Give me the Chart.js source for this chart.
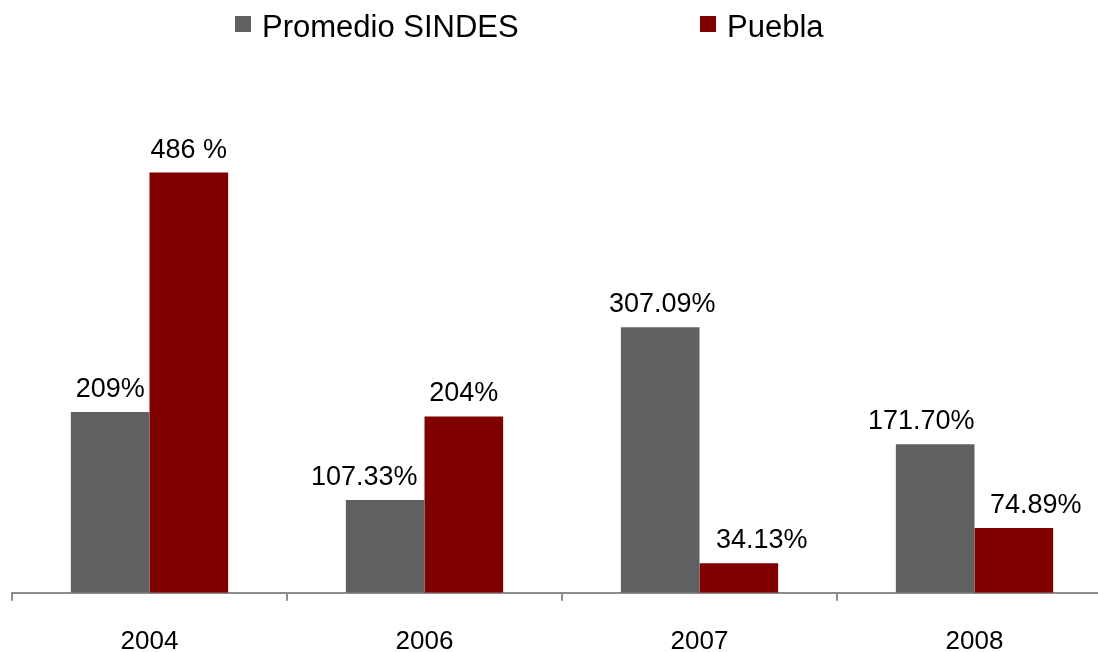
<!DOCTYPE html>
<html>
<head>
<meta charset="utf-8">
<script src="https://cdn.jsdelivr.net/npm/chart.js@4.4.0/dist/chart.umd.min.js"></script>
<style>
  html, body { margin: 0; padding: 0; background: #fff; overflow: hidden; }
  #wrap { width: 1112px; height: 652px; }
</style>
</head>
<body>
<div id="wrap"><canvas id="chart-1"></canvas></div>
<script>
const years = ['2004', '2006', '2007', '2008'];
const sindesValues = [209, 107.33, 307.09, 171.70];
const pueblaValues = [486, 204, 34.13, 74.89];
const sindesLabels = ['209%', '107.33%', '307.09%', '171.70%'];
const pueblaLabels = ['486 %', '204%', '34.13%', '74.89%'];

const FONT = '"Liberation Sans", Arial, sans-serif';

// value labels above each bar (a few are nudged sideways like in the original)
const barLabels = {
    id: 'barLabels',
    afterDatasetsDraw(chart, args, opts) {
        const ctx = chart.ctx;
        ctx.save();
        ctx.font = '27px ' + FONT;
        ctx.fillStyle = '#000';
        ctx.textAlign = 'center';
        ctx.textBaseline = 'alphabetic';
        chart.data.datasets.forEach((ds, i) => {
            chart.getDatasetMeta(i).data.forEach((bar, j) => {
                const dx = opts.nudge[i][j] || 0;
                ctx.fillText(ds.valueLabels[j], bar.x + dx, bar.y - 15);
            });
        });
        ctx.restore();
    }
};

// legend drawn by hand so the wide gap between items can be kept
const topLegend = {
    id: 'topLegend',
    afterDraw(chart) {
        const ctx = chart.ctx;
        ctx.save();
        ctx.font = '31px ' + FONT;
        ctx.textBaseline = 'alphabetic';
        const starts = [235, 700];
        chart.data.datasets.forEach((ds, i) => {
            const x = starts[i];
            ctx.fillStyle = ds.backgroundColor;
            ctx.fillRect(x, 16, 16, 16);
            ctx.fillStyle = '#000';
            ctx.fillText(ds.label, x + 27, 37);
        });
        ctx.restore();
    }
};

const ctx1 = document.getElementById('chart-1').getContext('2d');

new Chart(ctx1, {
    type: 'bar',
    data: {
        labels: years,
        datasets: [{
            label: 'Promedio SINDES',
            data: sindesValues,
            valueLabels: sindesLabels,
            backgroundColor: '#606060'
        }, {
            label: 'Puebla',
            data: pueblaValues,
            valueLabels: pueblaLabels,
            backgroundColor: '#800000'
        }]
    },
    options: {
        responsive: true,
        maintainAspectRatio: false,
        animation: false,
        events: [],
        categoryPercentage: 0.572,
        barPercentage: 1,
        layout: { padding: { top: 74, left: 12, right: 0, bottom: -30 } },
        plugins: {
            legend: { display: false },
            tooltip: { enabled: false },
            barLabels: { nudge: [[0, -21, 2, -14], [0, 0, 23, 22]] }
        },
        scales: {
            x: {
                offset: true,
                grid: {
                    offset: true,
                    drawOnChartArea: false,
                    drawTicks: true,
                    tickLength: 8,
                    color: '#8c8c8c',
                    lineWidth: 2
                },
                border: { color: '#8c8c8c', width: 2 },
                ticks: {
                    color: '#000',
                    padding: 25,
                    font: { family: FONT, size: 26 }
                }
            },
            y: {
                display: false,
                min: 0,
                max: 600
            }
        }
    },
    plugins: [barLabels, topLegend]
});
</script>
</body>
</html>
